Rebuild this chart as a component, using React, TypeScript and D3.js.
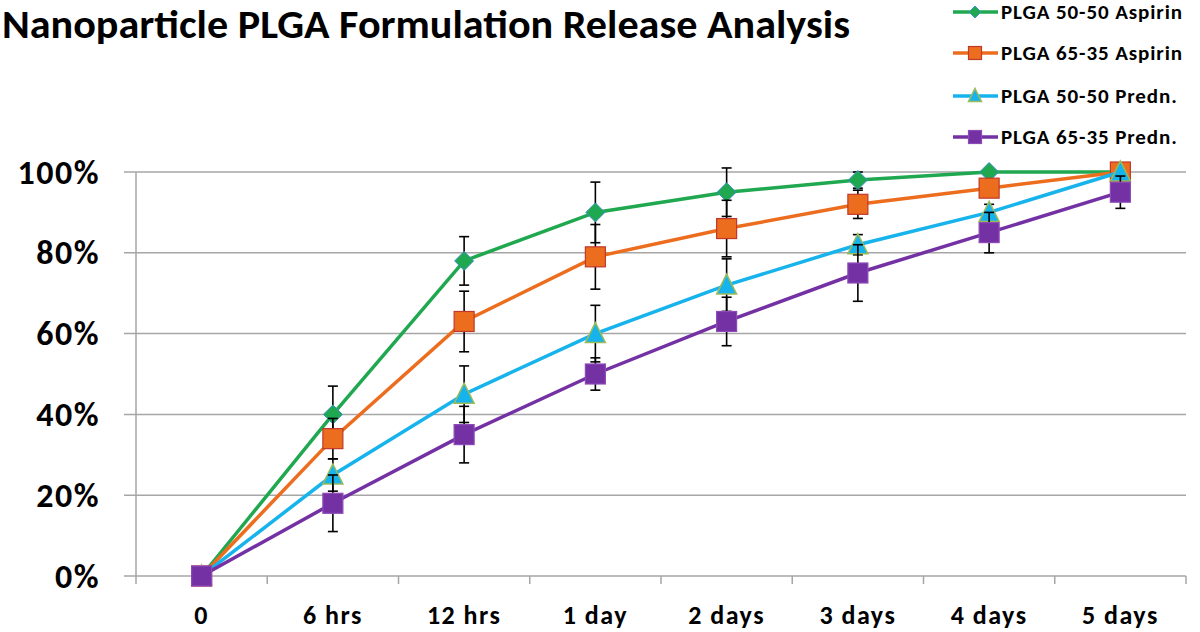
import React from "react";
import * as d3 from "d3";

const categories = ["0", "6 hrs", "12 hrs", "1 day", "2 days", "3 days", "4 days", "5 days"];
const yTicks = [0, 20, 40, 60, 80, 100];

const aspirin5050 = [0, 40, 78, 90, 95, 98, 100, 100];
const aspirin6535 = [0, 34, 63, 79, 86, 92, 96, 100];
const predn5050 = [0, 25, 45, 60, 72, 82, 90, 100];
const predn6535 = [0, 18, 35, 50, 63, 75, 85, 95];

const errA5050 = [0, 7, 6, 7.5, 6, 2, 0, 0];
const errA6535 = [0, 5, 7.5, 8, 7, 3.5, 2, 0];
const errP5050 = [0, 4, 7, 7, 6.5, 2.5, 2, 0];
const errP6535 = [0, 7, 7, 4, 6, 7, 5, 4];

const seriesNames = ["PLGA 50-50 Aspirin", "PLGA 65-35 Aspirin", "PLGA 50-50 Predn.", "PLGA 65-35 Predn."];

type S = { name: string; values: number[]; err: number[]; color: string; fill: string; stroke: string; marker: string };

const series: S[] = [
  { name: seriesNames[0], values: aspirin5050, err: errA5050, color: "#1fa84f", fill: "#1fa84f", stroke: "#3d8fc4", marker: "diamond" },
  { name: seriesNames[1], values: aspirin6535, err: errA6535, color: "#ed6d1f", fill: "#ed6d1f", stroke: "#c0392b", marker: "square" },
  { name: seriesNames[2], values: predn5050, err: errP5050, color: "#17b3ec", fill: "#17b3ec", stroke: "#9bbb59", marker: "triangle" },
  { name: seriesNames[3], values: predn6535, err: errP6535, color: "#7431a3", fill: "#7431a3", stroke: "#8e4ab8", marker: "square" },
];

const left = 136, right = 1186, top = 172, bottom = 576;

function Marker({ kind, x, y, fill, stroke, size }: { kind: string; x: number; y: number; fill: string; stroke: string; size: number }) {
  const h = size / 2;
  if (kind === "diamond") {
    const p = `M${x},${y - h} L${x + h},${y} L${x},${y + h} L${x - h},${y} Z`;
    return <path d={p} fill={fill} stroke={stroke} strokeWidth={1} />;
  }
  if (kind === "triangle") {
    const p = `M${x},${y - h - 1} L${x + h},${y + h - 1} L${x - h},${y + h - 1} Z`;
    return <path d={p} fill={fill} stroke={stroke} strokeWidth={1.5} />;
  }
  return <rect x={x - h} y={y - h} width={size} height={size} fill={fill} stroke={stroke} strokeWidth={1.2} />;
}

export default function App() {
  const x = d3.scaleBand<string>().domain(categories).range([left, right]);
  const y = d3.scaleLinear().domain([0, 100]).range([bottom, top]);
  const cx = (c: string) => (x(c) as number) + x.bandwidth() / 2;
  const line = d3.line<number>().x((_, i) => cx(categories[i])).y((v) => y(v));
  const font = "Calibri, Carlito, Lato, sans-serif";
  const sizes: Record<string, number> = { diamond: 19, square: 20, triangle: 20 };

  return (
    <svg width={1200} height={632} style={{ position: "absolute", left: 0, top: 0, background: "#fff" }} fontFamily={font}>
      <rect width={1200} height={632} fill="#fff" />
      <text x={2} y={38} fontSize={40} fontWeight="bold" textLength={848} lengthAdjust="spacingAndGlyphs" fill="#000">
        Nanoparticle PLGA Formulation Release Analysis
      </text>

      {yTicks.map((t) => (
        <g key={t}>
          <line x1={left - 12} x2={right} y1={y(t)} y2={y(t)} stroke="#a6a6a6" strokeWidth={1.5} />
          <text x={100} y={y(t)} dy="0.34em" textAnchor="end" fontSize={34} fontWeight="bold" letterSpacing={1.5} fill="#000">
            {t}%
          </text>
        </g>
      ))}
      <line x1={left} x2={left} y1={top} y2={bottom + 8} stroke="#a6a6a6" strokeWidth={1.5} />
      {categories.map((c) => (
        <g key={c}>
          <line x1={(x(c) as number) + x.bandwidth()} x2={(x(c) as number) + x.bandwidth()} y1={bottom} y2={bottom + 8} stroke="#a6a6a6" strokeWidth={1.5} />
          <text x={cx(c)} y={624} textAnchor="middle" fontSize={26} fontWeight="bold" letterSpacing={1.5} fill="#000">
            {c}
          </text>
        </g>
      ))}

      {series.map((s) => (
        <g key={s.name}>
          <path d={line(s.values) || ""} fill="none" stroke={s.color} strokeWidth={3.5} />
          {s.values.map((v, i) =>
            s.err[i] > 0 ? (
              <g key={i} stroke="#000" strokeWidth={1.6}>
                <line x1={cx(categories[i])} x2={cx(categories[i])} y1={y(v - s.err[i])} y2={y(v + s.err[i])} />
                <line x1={cx(categories[i]) - 5} x2={cx(categories[i]) + 5} y1={y(v + s.err[i])} y2={y(v + s.err[i])} />
                <line x1={cx(categories[i]) - 5} x2={cx(categories[i]) + 5} y1={y(v - s.err[i])} y2={y(v - s.err[i])} />
              </g>
            ) : null
          )}
          {s.values.map((v, i) => (
            <Marker key={i} kind={s.marker} x={cx(categories[i])} y={y(v)} fill={s.fill} stroke={s.stroke} size={sizes[s.marker]} />
          ))}
        </g>
      ))}

      {series.map((s, i) => {
        const ly = [12, 53, 96, 137][i];
        return (
          <g key={s.name}>
            <line x1={953} x2={998} y1={ly} y2={ly} stroke={s.color} strokeWidth={3.5} />
            <Marker kind={s.marker} x={975} y={ly} fill={s.fill} stroke={s.stroke} size={s.marker === "diamond" ? 12 : 13} />
            <text x={1001} y={ly} dy="0.34em" fontSize={21} fontWeight="bold" letterSpacing={0.9} fill="#000">
              {s.name}
            </text>
          </g>
        );
      })}
    </svg>
  );
}
